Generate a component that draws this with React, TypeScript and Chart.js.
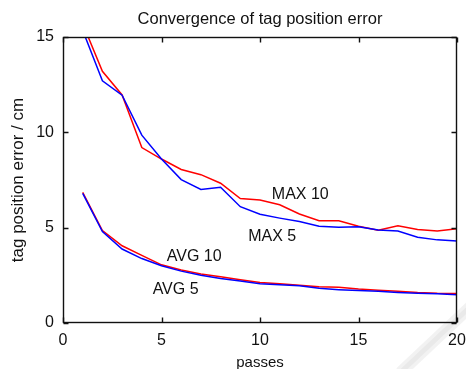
import React, { useEffect, useRef } from "react";
import { Chart, registerables } from "chart.js";

Chart.register(...registerables);

const passes = [1, 2, 3, 4, 5, 6, 7, 8, 9, 10, 11, 12, 13, 14, 15, 16, 17, 18, 19, 20];
const max10 = [15.7, 13.2, 11.96, 9.2, 8.6, 8.05, 7.78, 7.33, 6.53, 6.45, 6.2, 5.72, 5.36, 5.36, 5.07, 4.86, 5.1, 4.9, 4.83, 4.95];
const max5 = [15.35, 12.7, 11.95, 9.85, 8.6, 7.52, 7.0, 7.12, 6.1, 5.7, 5.5, 5.32, 5.08, 5.02, 5.05, 4.88, 4.82, 4.5, 4.36, 4.3];
const avg10 = [6.85, 4.85, 4.05, 3.55, 3.05, 2.78, 2.57, 2.43, 2.27, 2.12, 2.06, 1.98, 1.9, 1.87, 1.78, 1.72, 1.67, 1.6, 1.56, 1.55];
const avg5 = [6.8, 4.8, 3.88, 3.38, 3.0, 2.72, 2.5, 2.33, 2.2, 2.06, 2.0, 1.95, 1.82, 1.75, 1.7, 1.66, 1.6, 1.56, 1.53, 1.48];

const xTicks = [0, 5, 10, 15, 20];
const yTicks = [0, 5, 10, 15];

const labelTexts = ["MAX 10", "MAX 5", "AVG 10", "AVG 5"];
const labelX = [10.6, 9.4, 5.27, 4.55];
const labelY = [6.71, 4.51, 3.49, 1.75];

const FONT = "'Liberation Sans', Arial, sans-serif";

const shadowPlugin = {
  id: "shadow",
  beforeDraw(chart: any) {
    const { ctx, width, height } = chart;
    ctx.save();
    ctx.strokeStyle = "rgba(0,0,0,0.05)";
    ctx.lineCap = "round";
    ctx.lineWidth = 12;
    ctx.beginPath();
    ctx.moveTo(width + 4, height - 62);
    ctx.lineTo(width - 64, height + 2);
    ctx.stroke();
    ctx.lineWidth = 5;
    ctx.strokeStyle = "rgba(0,0,0,0.04)";
    ctx.stroke();
    ctx.restore();
  },
};

const framePlugin = {
  id: "frame",
  afterDatasetsDraw(chart: any) {
    const { ctx, chartArea: a, scales } = chart;
    const xs = scales.x;
    const ys = scales.y;
    const L = Math.round(a.left) + 0.5;
    const R = Math.round(a.right) - 0.5;
    const T = Math.round(a.top) + 0.5;
    const B = Math.round(a.bottom) - 0.5;
    ctx.save();
    ctx.strokeStyle = "#111";
    ctx.lineWidth = 1.4;
    ctx.strokeRect(L, T, R - L, B - T);
    const tl = 5;
    ctx.beginPath();
    xs.ticks.forEach((t: any) => {
      const px = Math.round(xs.getPixelForValue(t.value)) + 0.5;
      ctx.moveTo(px, B);
      ctx.lineTo(px, B - tl);
      ctx.moveTo(px, T);
      ctx.lineTo(px, T + tl);
    });
    ys.ticks.forEach((t: any) => {
      const py = Math.round(ys.getPixelForValue(t.value)) + 0.5;
      ctx.moveTo(L, py);
      ctx.lineTo(L + tl, py);
      ctx.moveTo(R, py);
      ctx.lineTo(R - tl, py);
    });
    ctx.stroke();

    ctx.fillStyle = "#111";
    ctx.font = `16px ${FONT}`;
    ctx.textAlign = "left";
    ctx.textBaseline = "middle";
    labelTexts.forEach((txt, i) => {
      ctx.fillText(txt, xs.getPixelForValue(labelX[i]), ys.getPixelForValue(labelY[i]));
    });
    ctx.restore();
  },
};

export default function App() {
  const ref = useRef<HTMLCanvasElement | null>(null);

  useEffect(() => {
    if (!ref.current) return;
    const mk = (d: number[]) => passes.map((p, i) => ({ x: p, y: d[i] }));
    const chart = new Chart(ref.current, {
      type: "line",
      data: {
        datasets: [
          { label: "MAX 5", data: mk(max5), borderColor: "#0000ff", borderWidth: 1.5, pointRadius: 0, tension: 0 },
          { label: "MAX 10", data: mk(max10), borderColor: "#ff0000", borderWidth: 1.5, pointRadius: 0, tension: 0 },
          { label: "AVG 5", data: mk(avg5), borderColor: "#0000ff", borderWidth: 1.5, pointRadius: 0, tension: 0 },
          { label: "AVG 10", data: mk(avg10), borderColor: "#ff0000", borderWidth: 1.5, pointRadius: 0, tension: 0 },
        ],
      },
      options: {
        animation: false,
        responsive: false,
        events: [],
        layout: { padding: { left: 0, right: 9, top: 0, bottom: 0 } },
        plugins: {
          legend: { display: false },
          tooltip: { enabled: false },
          title: {
            display: true,
            fullSize: false,
            text: "Convergence of tag position error",
            color: "#111",
            font: { family: FONT, size: 16.5, weight: "normal", lineHeight: 1.2 },
            padding: { top: 10, bottom: 7.2 },
          },
        },
        scales: {
          x: {
            type: "linear",
            min: 0,
            max: 20,
            afterFit: (s: any) => { s.height = 46; s.paddingLeft = 0; s.paddingRight = 0; },
            afterBuildTicks: (s: any) => { s.ticks = xTicks.map((v) => ({ value: v })); },
            grid: { display: false, drawTicks: false },
            border: { display: false },
            ticks: { color: "#111", font: { family: FONT, size: 16 }, padding: 8, maxRotation: 0 },
            title: { display: true, text: "passes", color: "#111", font: { family: FONT, size: 15 }, padding: { top: 0, bottom: -3 } },
          },
          y: {
            type: "linear",
            min: 0,
            max: 15,
            afterFit: (s: any) => { s.width = 63; s.paddingTop = 0; s.paddingBottom = 0; },
            afterBuildTicks: (s: any) => { s.ticks = yTicks.map((v) => ({ value: v })); },
            grid: { display: false, drawTicks: false },
            border: { display: false },
            ticks: { color: "#111", font: { family: FONT, size: 16 }, padding: 9 },
            title: { display: true, text: "tag position error / cm", color: "#111", font: { family: FONT, size: 17 }, padding: { top: 8, bottom: 0 } },
          },
        },
      },
      plugins: [shadowPlugin, framePlugin],
    } as any);
    return () => chart.destroy();
  }, []);

  return (
    <div style={{ position: "fixed", left: 0, top: 0, width: 466, height: 369, background: "#fff" }}>
      <canvas ref={ref} width={466} height={369} style={{ display: "block" }} />
    </div>
  );
}
